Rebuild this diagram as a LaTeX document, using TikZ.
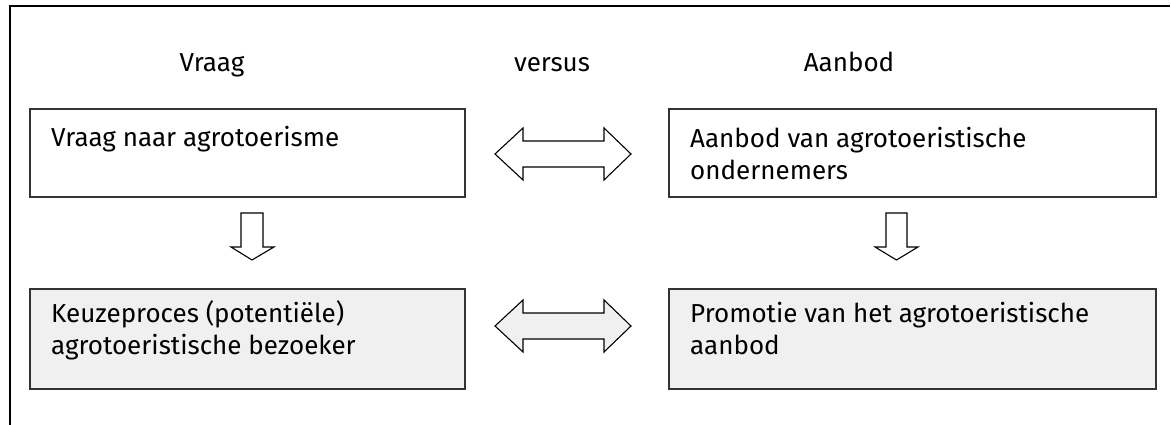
\documentclass[tikz,border=0pt]{standalone}
\usepackage{fontspec}
\setmainfont{Fira Sans}
\begin{document}
\begin{tikzpicture}[x=1pt,y=-1pt,
  framestroke/.style={line width=2.4pt,black},
  box/.style={draw=black!80,line width=1.6pt,rectangle,inner sep=0pt,anchor=north west},
  plainbox/.style={box,fill=white},
  greybox/.style={box,fill=black!6},
  % multi-line labels are anchored at the baseline of their last line
  label/.style={anchor=base west,inner sep=0pt,font=\fontsize{26}{32}\selectfont,align=left},
  head/.style={anchor=base,inner sep=0pt,font=\fontsize{26}{32}\selectfont},
  blockarrow/.style={draw=black,line width=1.1pt,line join=miter}
]
\useasboundingbox (0,0) rectangle (1171,425);

% outer frame: top and left edges only
\coordinate (frameTR) at (1170,6);
\coordinate (frameTL) at (10,6);
\coordinate (frameBL) at (10,425);
\draw[framestroke] (frameTR) -- (frameTL) -- (frameBL);

% column headings
\node[head] (hVraag)  at (212,72) {Vraag};
\node[head] (hVersus) at (552,72) {versus};
\node[head] (hAanbod) at (849,72) {Aanbod};

% boxes
\node[plainbox,minimum width=435pt,minimum height=88pt] (vraag)  at (29,108) {};
\node[plainbox,minimum width=487pt,minimum height=88pt] (aanbod) at (668,108) {};
\node[greybox,minimum width=435pt,minimum height=100pt] (keuze)  at (29,288) {};
\node[greybox,minimum width=487pt,minimum height=100pt] (promo)  at (668,288) {};

% box texts
\node[label] (tVraag)  at (51,147)  {Vraag naar agrotoerisme};
\node[label] (tAanbod) at (690,179) {Aanbod van agrotoeristische\\ondernemers};
\node[label] (tKeuze)  at (51,354)  {Keuzeproces (potentiële)\\agrotoeristische bezoeker};
\node[label] (tPromo)  at (690,354) {Promotie van het agrotoeristische\\aanbod};

% double arrow between the upper boxes
\draw[blockarrow,fill=white]
  (495,154) -- (523,128) -- (523,141) -- (604,141) -- (604,128) -- (631,154)
  -- (604,180) -- (604,167) -- (523,167) -- (523,180) -- cycle;

% double arrow between the lower boxes
\draw[blockarrow,fill=black!6]
  (495,326) -- (523,300) -- (523,313) -- (604,313) -- (604,300) -- (631,326)
  -- (604,352) -- (604,339) -- (523,339) -- (523,352) -- cycle;

% downward arrows
\draw[blockarrow,fill=white]
  (241,213) -- (263,213) -- (263,247) -- (274,247) -- (252,260)
  -- (231,247) -- (241,247) -- cycle;
\draw[blockarrow,fill=white]
  (886,213) -- (907,213) -- (907,247) -- (918,247) -- (896.5,260)
  -- (875,247) -- (886,247) -- cycle;
\end{tikzpicture}
\end{document}
